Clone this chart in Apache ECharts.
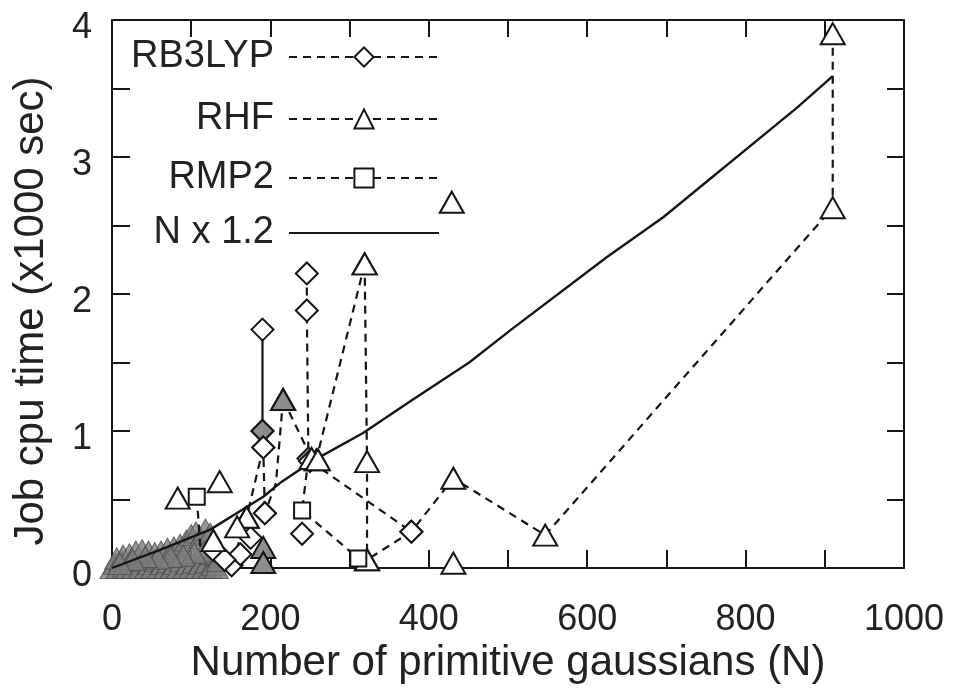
<!DOCTYPE html>
<html>
<head>
<meta charset="utf-8">
<title>Job cpu time vs primitive gaussians</title>
<script src="https://cdn.jsdelivr.net/npm/echarts@6/dist/echarts.min.js"></script>
<style>
  html, body { margin: 0; padding: 0; background: #fff; }
  #chart { width: 953px; height: 694px; }
</style>
</head>
<body>
<div id="chart"></div>
<script>
// x: number of primitive gaussians (N), y: job cpu time (x1000 sec)
// third entry of a point: D/T/S = marker shape override, g = gray filled, n = no marker
const rhfPathA = [[910, 3.9], [910, 2.63], [547, 0.24], [431, 0.655], [378, 0.265, "D"], [322, 0.06]];
const rhfPathB = [[319, 2.22], [322, 0.776], [322, 0.06]];
const rhfPathC = [[319, 2.22], [258, 0.79]];
const rhfPathD = [[216, 1.23, "g"], [252, 0.8]];
const rhfPathE = [[216, 1.23, "g"], [207, 0.62, "n"], [193, 0.4, "D"]];
const rhfSingles = [[429, 2.67], [136, 0.63], [83, 0.51], [431, 0.035], [191, 0.15, "g"], [191, 0.04, "g"], [170, 0.37], [158, 0.3], [128, 0.2], [260, 0.79]];

const b3lypPathA = [[246, 2.15], [246, 1.88], [248, 0.8, "g"]];
const b3lypPathB = [[250, 0.78], [378, 0.265]];
const b3lypSolid = [[190, 1.74], [190, 1.0, "g"]];
const b3lypPathC = [[190, 1.0, "g"], [191, 0.88], [193, 0.4]];
const b3lypPathD = [[191, 0.88], [170, 0.37, "T"], [151, 0.02]];
const b3lypSingles = [[240, 0.25], [128, 0.13], [175, 0.22], [162, 0.1], [142, 0.06]];

const mp2PathA = [[107, 0.52], [112, 0.12, "n"]];
const mp2PathB = [[248, 0.8, "n"], [240, 0.42], [311, 0.07]];

// N x 1.2 curve
const fitLine = [[0, 0], [60, 0.13], [124, 0.28], [191, 0.52], [212, 0.62], [253, 0.78], [317, 0.985], [380, 1.23], [451, 1.5], [504, 1.74], [625, 2.27], [696, 2.56], [865, 3.36], [910, 3.59]];

// dense overlapping small jobs near the origin (they merge into a gray mass)
const smallJobs = [
  [0, 0.0], [4, 0.03], [8, 0.0], [12, 0.05], [16, 0.01], [20, 0.0], [24, 0.04], [28, 0.0], [32, 0.03],
  [36, 0.0], [40, 0.05], [44, 0.0], [48, 0.03], [52, 0.0], [56, 0.05], [60, 0.0], [64, 0.03], [68, 0.0],
  [72, 0.04], [76, 0.0], [80, 0.03], [84, 0.0], [88, 0.05], [92, 0.0], [96, 0.03], [100, 0.0], [104, 0.04],
  [108, 0.0], [112, 0.03], [116, 0.0], [120, 0.04], [124, 0.0], [128, 0.02], [132, 0.0],
  [6, 0.07], [14, 0.09], [22, 0.1], [30, 0.12], [38, 0.13], [46, 0.12], [54, 0.11], [62, 0.12],
  [70, 0.14], [78, 0.15], [86, 0.17], [94, 0.2], [100, 0.24], [106, 0.26], [112, 0.22], [118, 0.28],
  [124, 0.25], [130, 0.18], [126, 0.1], [116, 0.12], [104, 0.11], [90, 0.09], [74, 0.08], [58, 0.07],
  [42, 0.08], [26, 0.06], [10, 0.03], [136, 0.08], [134, 0.05]
];

const legendNames = ["RB3LYP", "RHF", "RMP2", "N x 1.2"];

const FONT = "'Liberation Sans', Arial, sans-serif";
const INK = "#151515";
const shapes = { D: ["diamond", [22, 22]], T: ["triangle", [24, 21]], S: ["rect", [16, 16]] };
const method = { RB3LYP: "D", RHF: "T", RMP2: "S" };

function toData(list) {
  return list.map(p => {
    const code = p[2] || "";
    if (!code) return [p[0], p[1]];
    const item = { value: [p[0], p[1]] };
    if (code.includes("n")) item.symbol = "none";
    const s = code.replace(/[gn]/g, "");
    if (s && shapes[s]) { item.symbol = shapes[s][0]; item.symbolSize = shapes[s][1]; }
    if (code.includes("g")) item.itemStyle = { color: "#8d8d8d" };
    return item;
  });
}

function path(name, list, opts) {
  const sh = shapes[method[name]];
  opts = opts || {};
  return {
    name: name,
    type: "line",
    data: toData(list),
    symbol: sh[0],
    symbolSize: sh[1],
    showAllSymbol: true,
    lineStyle: { color: INK, width: opts.noLine ? 0 : 2.2, type: opts.solid ? "solid" : [8, 6] },
    itemStyle: { color: "#fff", borderColor: INK, borderWidth: 2 },
    z: 3,
    animation: false
  };
}

const legendTops = [38, 100, 159, 214];
const legends = legendNames.map((n, i) => {
  const lg = {
    data: [n],
    right: 513,
    top: legendTops[i],
    orient: "vertical",
    align: "right",
    itemWidth: 150,
    itemHeight: 24,
    padding: 0,
    selectedMode: false,
    textStyle: { fontSize: 38, color: "#222", fontFamily: FONT, padding: [0, 10, 0, 0] }
  };
  // the fit line has no marker
  if (n === "N x 1.2") lg.itemStyle = { color: "rgba(0,0,0,0)", borderColor: "rgba(0,0,0,0)" };
  return lg;
});

const chart = echarts.init(document.getElementById("chart"));
chart.setOption({
  animation: false,
  grid: { left: 112, right: 49, top: 20, bottom: 126 },
  legend: legends,
  xAxis: [
    {
      type: "value", min: 0, max: 1000, interval: 100,
      name: "Number of primitive gaussians (N)", nameLocation: "middle", nameGap: 74,
      nameTextStyle: { fontSize: 42, color: "#222", fontFamily: FONT },
      axisLine: { onZero: false, lineStyle: { color: INK, width: 2 } },
      axisTick: { inside: true, length: 18, lineStyle: { color: INK, width: 2 } },
      axisLabel: { fontSize: 36, color: "#222", fontFamily: FONT, margin: 34, formatter: v => (v % 200 === 0 ? v : "") },
      splitLine: { show: false }
    },
    {
      type: "value", min: 0, max: 1000, interval: 100, position: "top",
      axisLine: { onZero: false, lineStyle: { color: INK, width: 2 } },
      axisTick: { inside: true, length: 17, lineStyle: { color: INK, width: 2 } },
      axisLabel: { show: false }, splitLine: { show: false }
    }
  ],
  yAxis: [
    {
      type: "value", min: 0, max: 4, interval: 0.5,
      name: "Job cpu time (x1000 sec)", nameLocation: "middle", nameGap: 60,
      nameTextStyle: { fontSize: 42, color: "#222", fontFamily: FONT, padding: [0, 34, 0, 0] },
      axisLine: { onZero: false, lineStyle: { color: INK, width: 2 } },
      axisTick: { inside: true, length: 18, lineStyle: { color: INK, width: 2 } },
      axisLabel: {
        fontSize: 36, color: "#222", fontFamily: FONT, margin: 20,
        verticalAlign: "top", lineHeight: 16,
        formatter: v => (Number.isInteger(v) ? v : "")
      },
      splitLine: { show: false }
    },
    {
      type: "value", min: 0, max: 4, interval: 0.5, position: "right",
      axisLine: { onZero: false, lineStyle: { color: INK, width: 2 } },
      axisTick: { inside: true, length: 17, lineStyle: { color: INK, width: 2 } },
      axisLabel: { show: false }, splitLine: { show: false }
    }
  ],
  series: [
    path("RB3LYP", b3lypPathA),
    path("RHF", rhfPathA),
    path("RMP2", mp2PathA),
    {
      name: "N x 1.2", type: "line", data: fitLine, symbol: "none",
      lineStyle: { color: INK, width: 2.4 }, z: 2
    },
    {
      name: "small", type: "scatter", data: smallJobs, symbol: "triangle", symbolSize: [24, 21],
      itemStyle: { color: "#7d7d7d", borderColor: "#4a4a4a", borderWidth: 1 }, z: 1
    },
    path("RB3LYP", b3lypPathB),
    path("RB3LYP", b3lypSolid, { solid: true }),
    path("RB3LYP", b3lypPathC),
    path("RB3LYP", b3lypPathD),
    path("RB3LYP", b3lypSingles, { noLine: true }),
    path("RHF", rhfPathB),
    path("RHF", rhfPathC),
    path("RHF", rhfPathD),
    path("RHF", rhfPathE),
    path("RHF", rhfSingles, { noLine: true }),
    path("RMP2", mp2PathB)
  ]
});
</script>
</body>
</html>
